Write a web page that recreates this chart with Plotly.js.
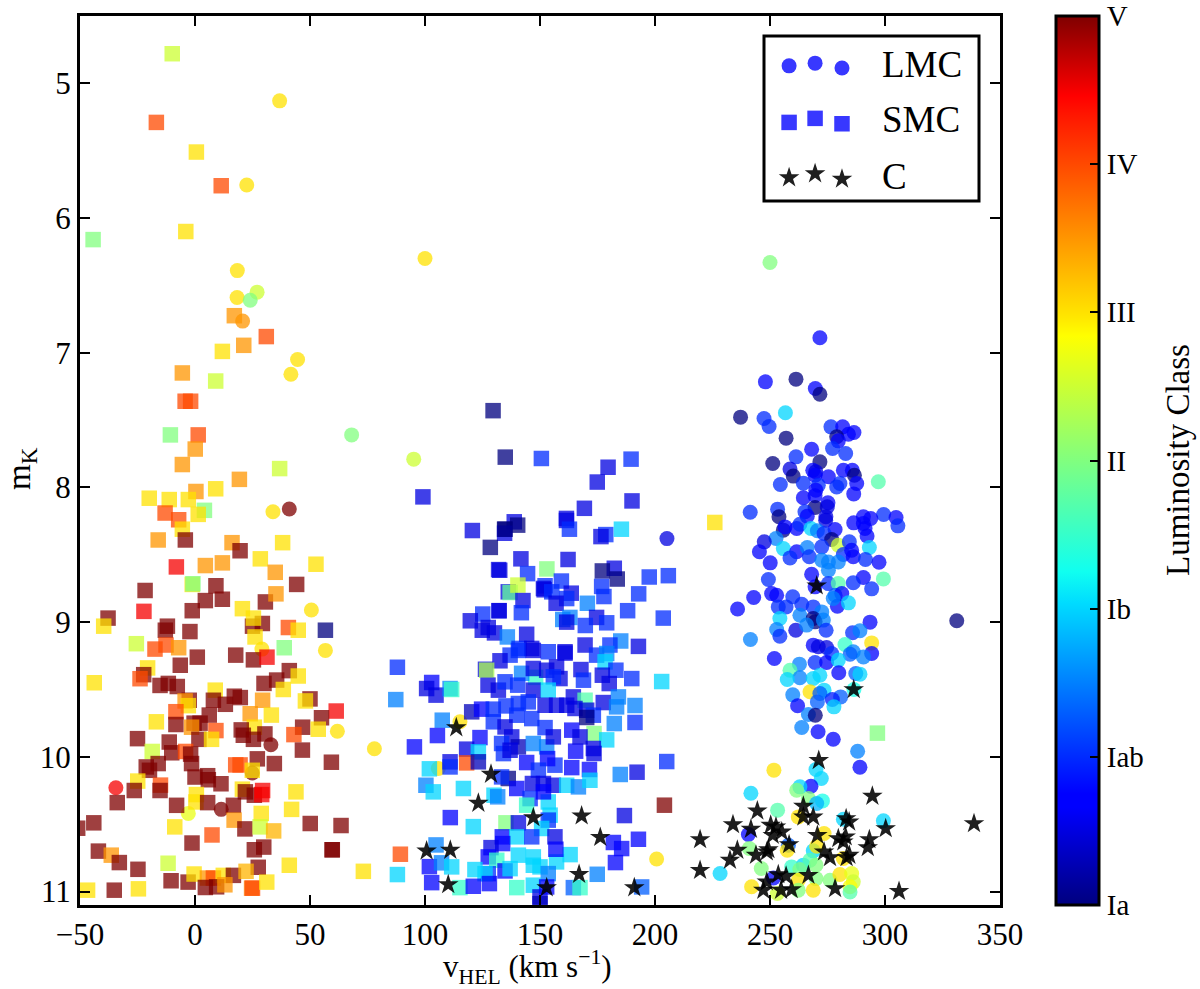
<!DOCTYPE html>
<html><head><meta charset="utf-8">
<script src="https://cdn.plot.ly/plotly-3.0.1.min.js"></script>
<style>html,body{margin:0;padding:0;background:#fff}</style></head>
<body><div id="chart" style="width:1200px;height:989px"></div>
<script>
// Each row: [heliocentric velocity (km/s), K magnitude, luminosity class on the colour bar, Ia=0 ... V=6]
const lmcForeground = [[36.8,5.13,4],[22.5,5.755,4],[18.4,6.39,4],[18.3,6.59,4],[27,6.55,3.5],[24,6.61,3],[20.7,6.765,4.5],[44.6,7.05,4],[41.7,7.16,4],[68.1,7.61,3],[33.9,8.18,4],[41,8.16,6],[95.1,7.79,3.5],[100,6.3,4],[250,6.33,3],[50.6,8.91,4],[56.7,9.21,4],[29.1,9.2,4],[61.9,9.81,4],[33,9.91,6],[78,9.94,4],[24.9,10.12,6],[-34.4,10.23,5.5],[11.4,10.39,6],[-2.9,10.42,3.7],[200.7,10.758,4],[115.2,9.74,4],[105.8,10.087,4],[205.2,8.38,0.5]];
const lmcUpper = [[271.7,6.889,.7],[248,7.216,.7],[261.3,7.196,0],[269.7,7.265,.7],[271.7,7.308,0],[237.2,7.478,0],[247.4,7.488,1],[249.6,7.548,1],[256.7,7.446,2],[276.5,7.55,1],[281.6,7.55,.7],[284.1,7.605,.7],[286.5,7.592,.7],[279,7.624,0],[279.7,7.654,.7],[257,7.634,0],[268.1,7.716,.7],[277.2,7.711,1],[282.9,7.748,1],[261.3,7.773,1],[251.2,7.822,0],[271.7,7.81,0],[258.7,7.864,.5],[260.1,7.916,0],[268.6,7.872,.7],[269.9,7.884,.5],[269.6,7.909,.7],[281.9,7.872,.7],[285.8,7.872,.7],[286.7,7.909,0],[275.4,7.921,.7],[297.1,7.958,2.7],[254.5,7.978,1],[264.5,7.968,1],[287.7,7.971,.7],[280.4,7.971,1],[279,7.996,1],[271,7.983,1],[269.9,8.02,.7],[286.4,8.048,.7],[264.5,8.077,.7],[269.6,8.062,.7],[275.2,8.114,.7],[269.6,8.149,0],[274.9,8.144,.5],[241.4,8.184,1],[253.3,8.161,1],[253.9,8.218,0],[265.2,8.181,1],[266.2,8.213,.7],[274.3,8.218,.5],[274.2,8.243,.5],[299.4,8.201,1],[304.8,8.223,.7],[305.6,8.285,1],[286.4,8.263,.7],[290.6,8.218,.7],[293.8,8.231,.7],[290.6,8.268,.7],[291.3,8.305,.7],[292.2,8.36,.7],[255.8,8.317,0],[256.5,8.293,.7],[261.6,8.305,.7],[263,8.273,1],[267.8,8.305,2],[270.6,8.322,1.5],[278.3,8.312,.7],[273.5,8.342,1],[276.8,8.387,0],[252.6,8.379,1.5],[247.5,8.404,.5],[245.4,8.478,.7],[255.8,8.454,2],[261.6,8.478,.7],[258.7,8.523,1],[266.2,8.446,1.5],[267.1,8.515,1],[272.5,8.441,1],[279.7,8.429,3.5],[284.5,8.404,1],[281.9,8.498,1],[285.5,8.466,.7],[286.2,8.515,.7],[293.2,8.446,2],[291.5,8.535,1],[297.4,8.555,.7],[250.1,8.56,.7],[275.4,8.553,1.5],[275.4,8.614,1.5],[279.7,8.553,1.5],[272.5,8.54,1.5],[249.3,8.684,1],[268.1,8.644,.7],[299.3,8.679,2.7],[290.6,8.669,.7],[286.2,8.708,1],[294.2,8.753,1],[275.4,8.714,1],[279.7,8.714,2.7],[269.6,8.738,.7],[250.7,8.788,.7],[252.9,8.8,.7],[242.9,8.817,.7],[235.9,8.902,.7],[259.9,8.812,1],[263.8,8.867,1],[253.6,8.887,1],[257,8.887,1],[278.3,8.8,1.3],[281.2,8.788,.7],[279.3,8.882,.7],[284.1,8.857,2],[277.5,8.825,1.5],[268.8,8.887,1],[272.5,8.924,1.5],[263,8.949,1.5],[254.3,8.973,2],[268.8,8.973,0],[293.5,9,.7],[331.2,8.99,0]];
const lmcLower = [[252.9,9.055,1.5],[254.3,9.104,1],[261.2,9.06,.5],[269.6,8.998,0],[265.9,9.022,1.5],[273.2,8.985,1.5],[274.4,9.06,1],[285.9,9.079,1],[289.1,9.064,1.5],[241.5,9.129,1.5],[294.2,9.154,4],[282.6,9.166,2.5],[294.2,9.233,.7],[290.6,9.258,1.5],[286.2,9.22,1.5],[284.8,9.238,1.3],[268.8,9.171,.7],[271,9.183,.5],[274.6,9.188,.5],[276.8,9.233,1],[251.9,9.27,.7],[269.6,9.3,1],[274.6,9.3,.7],[279.7,9.282,2],[262.8,9.312,1.5],[279.9,9.376,.7],[258.7,9.357,2.7],[263,9.413,1.5],[257.5,9.426,2],[268.8,9.418,2],[271.7,9.394,2],[287.3,9.381,1.3],[289.1,9.386,2],[286.5,9.5,2.3],[267.4,9.517,4],[273.5,9.505,2],[271.7,9.53,1.3],[259.9,9.54,1.5],[270.6,9.592,1.3],[280.7,9.555,1.3],[277.1,9.574,.9],[277.8,9.629,2],[262,9.621,.7],[266.7,9.686,1.5],[269.7,9.691,0],[263.8,9.782,1.5],[270.9,9.814,.7],[277.5,9.869,.7],[288.1,9.958,1.5],[289.1,10.077,.7],[251.7,10.099,4],[270,10.094,2],[272.3,10.161,2],[267.8,10.218,.7],[263,10.223,2],[261.6,10.248,3],[266.7,10.31,3],[241.7,10.27,2],[272.8,10.327,2.3],[270.3,10.347,1.8],[253.3,10.396,2.7],[262.3,10.446,4],[281.9,10.463,2],[299.3,10.475,2],[273.5,10.569,4],[240.6,10.577,.7],[258,10.656,1.3],[257.5,10.693,4],[241,10.68,3],[268.8,10.698,2],[270.3,10.664,4],[228.3,10.866,2],[246.2,10.829,3],[259.4,10.817,2.5],[264.5,10.804,2],[263,10.837,3],[267.4,10.767,2.7],[270,10.804,3],[270,10.904,3],[242,10.965,4],[251.5,10.899,.7],[253.2,11.015,3.5],[262.3,10.916,4],[262.3,10.99,3],[268.8,10.99,4],[276.1,10.916,3],[280.4,10.874,4],[285.5,10.866,3.7],[286.2,10.928,3.5],[284.8,10.965,3.8],[284.8,11.003,2.7],[281.9,10.755,4]];
const smcForegroundUpper = [[-9.9,4.78,3.5],[-16.8,5.29,5],[0.6,5.51,4],[11.4,5.76,5],[-4,6.10,4],[-44.3,6.16,3],[17.1,6.725,4.5],[31,6.88,5],[21.2,6.945,4.5],[11.9,6.99,4],[-5.5,7.15,4.5],[9,7.21,3.5],[-4.3,7.36,5],[-1.9,7.36,5],[-10.7,7.61,3],[1.4,7.61,5],[0.1,7.715,4.5],[-5.5,7.83,4.5],[36.8,7.86,3.5],[19.3,7.94,4.5],[0.4,8.03,4.5],[9,8.01,4],[-19.9,8.08,4],[-11.2,8.09,4],[-2.9,8.09,4],[4.1,8.17,3],[1.4,8.2,4],[-13,8.19,5],[-7.1,8.24,5],[-5.5,8.31,4],[-4.2,8.39,6],[-16,8.39,4.5],[16.1,8.41,4.5],[19.6,8.47,6],[38.1,8.41,4],[28.4,8.53,4],[52.6,8.57,4],[-8.1,8.59,5.5],[4.5,8.58,4.5],[11.9,8.56,4.5],[34.9,8.63,4.5],[-21.7,8.765,6],[44.2,8.72,6],[-1.2,8.72,4],[-0.9,8.715,3],[9.1,8.73,6],[4.5,8.84,6],[11.9,8.83,6],[30.6,8.85,6],[35.2,8.79,4.5]];
const smcForegroundMiddle = [[-1.2,8.915,6],[20.6,8.90,4],[-22.2,8.92,5.5],[-37.8,8.97,6],[-39.7,9.03,4],[-12,9.03,6],[-12.9,9.06,6],[25,9.03,6],[29.3,9.01,6],[25.4,8.97,4],[-2.2,9.07,6],[40.6,9.04,5],[44.9,9.06,4],[56.7,9.06,0],[-25.5,9.16,3.5],[38.8,9.19,3],[-17.4,9.2,5],[-12.6,9.17,5],[-7.1,9.19,4.5],[26.1,9.11,4],[1,9.26,6],[17.7,9.245,6],[25.4,9.28,6],[31.3,9.26,5.5],[-6.4,9.32,6],[-20.6,9.34,4],[41,9.36,6],[44.9,9.4,4],[-22.3,9.39,6],[-23.9,9.42,5],[35.5,9.43,6],[30,9.455,6],[38.4,9.5,4],[-43.8,9.45,4],[-15.2,9.47,6],[-11.6,9.455,6],[-7.7,9.478,6],[8.8,9.505,4],[8,9.58,6],[17.1,9.55,6],[19.7,9.56,6],[-2.5,9.58,6],[-4.3,9.585,4.5],[-2.9,9.62,4],[29.4,9.58,4.5],[50,9.57,6],[48,9.585,4],[13.2,9.61,6],[-8.3,9.665,5],[6.2,9.69,6],[61.4,9.66,5.5],[24,9.68,4.5],[33.2,9.69,4],[55,9.71,6],[-16.8,9.74,4],[-8.3,9.76,6],[-0.4,9.75,6],[2.2,9.75,6],[-1.5,9.78,4.5],[9.1,9.805,5],[25.8,9.78,4],[20.1,9.8,6],[21,9.84,6],[25.4,9.87,6],[30.4,9.83,6],[46.8,9.78,6],[43,9.835,5],[53.6,9.795,4],[-25,9.865,6],[1.7,9.87,6],[7.2,9.87,4],[-11.2,9.89,6],[46.7,9.95,6],[-18.6,9.96,3.5],[-10.1,9.97,6],[-4.1,9.96,5],[-1.9,9.98,6]];
const smcForegroundLower = [[-1.5,10.05,6],[-16,10.05,6],[-21.2,10.075,6],[-19.8,10.1,6],[27.1,10.015,6],[17.7,10.06,5],[19.6,10.06,5],[34.5,10.05,6],[59.3,10.04,6],[24.9,10.1,4],[0,10.15,6],[5.5,10.14,6],[5.8,10.17,6],[11.3,10.2,6],[-24.9,10.18,4],[-15,10.21,5],[-15.2,10.25,6],[-26.4,10.25,6],[43.9,10.26,4],[20.6,10.24,4],[21.9,10.26,6],[25.8,10.285,6],[29,10.28,5.5],[29.4,10.25,5.5],[0.6,10.28,4],[0.4,10.335,4],[5.5,10.34,6],[-33.8,10.34,6],[-8,10.36,6],[16.7,10.36,6],[42,10.39,4],[28.8,10.42,4],[17,10.47,4.5],[-44,10.49,6],[-51,10.53,6],[50.1,10.495,6],[63.5,10.51,6],[-8.8,10.52,4],[21.7,10.535,6],[28.3,10.52,3.5],[34.2,10.55,4.3],[7.4,10.58,5],[-1.3,10.64,6],[-42,10.7,6],[-36.4,10.73,4.5],[-32.9,10.785,6],[25.8,10.69,6],[29.9,10.67,6],[59.6,10.69,6],[59.7,10.69,6],[-24.8,10.835,6],[-11.7,10.79,3.5],[41,10.805,4],[73.2,10.85,4],[27.5,10.82,6],[-10.4,10.92,6],[-3,10.93,6],[-24.6,10.98,4],[-35.1,10.99,6],[-46.7,10.99,4],[-0.4,10.87,4],[5.4,10.9,4.5],[8,10.9,5],[12.3,10.88,4],[16.7,10.88,6],[22.2,10.85,4.3],[4.5,10.97,6],[9.4,10.965,6],[13,10.95,4.5],[24.6,10.975,4.7],[25,10.975,5],[31.2,10.93,4],[226,8.26,4],[296.7,9.824,3]];
const smcBarUpper = [[129.6,7.43,0],[134.9,7.775,0],[150.6,7.785,1],[189.6,7.79,1],[179.6,7.85,.5],[174.9,7.96,.5],[99.1,8.07,.5],[190,8.1,.5],[169.3,8.155,.5],[161.5,8.23,.5],[161.5,8.245,.5],[162.8,8.31,1],[138.8,8.255,.5],[140.3,8.28,0],[134.6,8.31,0],[134.6,8.34,.5],[134.8,8.31,0],[120.6,8.32,.5],[178.6,8.35,1],[176.5,8.365,.5],[185.4,8.31,2],[128.4,8.445,0],[141.7,8.53,.5],[162.2,8.535,.5],[132,8.61,.5],[132.5,8.615,.5],[153,8.605,3],[144.6,8.64,1],[182.3,8.6,.5],[177.1,8.62,0],[183.6,8.68,0],[197.5,8.665,1],[205.8,8.655,1],[159.3,8.695,1],[152.2,8.73,1],[151.5,8.75,.5],[151.8,8.76,.5],[136.2,8.775,.5],[137,8.78,2.8],[140.4,8.725,3.5],[176.8,8.735,1],[163.6,8.785,.5],[161.6,8.825,1],[177.8,8.81,1],[192.9,8.79,1],[155.1,8.775,1],[142.6,8.84,.5],[157,8.86,.5],[170.6,8.86,1.5],[188.1,8.915,1],[203.6,8.97,1],[132.2,8.915,.5],[132.2,8.915,.5],[125.1,8.94,1],[141.9,8.93,1],[119.7,8.99,.5],[127.5,9.04,.5],[124.9,9.06,.5],[130.2,9.08,.5],[135.8,9.11,1.5],[144.2,9.09,.5],[159.9,8.98,1.5],[163,8.965,1.5],[161.6,9,.5],[174.6,8.965,.5],[179,9.005,1],[169.7,9.025,1],[185.1,9.14,1.5],[180.4,9.17,1],[192.8,9.18,.5],[169.6,9.17,.5],[140.9,9.195,1],[146.4,9.195,.5],[153.6,9.22,1],[160.9,9.22,.5]];
const smcBarLower = [[88,9.335,1],[140.6,9.21,1],[147.1,9.21,.5],[137,9.245,1],[132.6,9.287,.5],[160.9,9.23,.5],[174.6,9.245,1],[179,9.233,1.5],[178.3,9.295,2],[183,9.357,1],[126.3,9.35,.5],[126.8,9.357,3.3],[148.1,9.41,2.5],[142,9.38,1.5],[147.1,9.344,.5],[152.9,9.357,.5],[157.2,9.332,.5],[158.7,9.419,.5],[155.8,9.406,1],[167.8,9.352,.5],[168.9,9.431,1],[177.1,9.394,.5],[180.1,9.456,.5],[189.9,9.419,1],[202.9,9.441,2],[102.9,9.448,.7],[100.7,9.493,.5],[104.8,9.542,.5],[110.9,9.493,1.5],[111.6,9.5,2.5],[87.3,9.575,1.5],[127.4,9.468,.5],[131.9,9.505,.5],[140.3,9.468,1],[147.1,9.505,.5],[153.6,9.505,2],[134.8,9.443,1],[164.5,9.555,.5],[169.6,9.58,2.7],[177.5,9.597,.5],[184.1,9.555,1.5],[183.3,9.629,1.5],[191.3,9.619,1.5],[152.2,9.617,.5],[157.2,9.617,.5],[161.6,9.617,.5],[165.2,9.641,.5],[170.3,9.654,.5],[173.2,9.691,1],[120.3,9.666,.3],[124.6,9.646,.7],[129.7,9.646,1],[135.2,9.622,1],[140.6,9.604,1],[144.9,9.592,1],[139.9,9.691,1],[146.4,9.716,1],[170.3,9.708,0],[152.2,9.783,1],[163.8,9.802,.7],[107.5,9.728,1.5],[129.7,9.74,1],[134.8,9.778,.5],[137.7,9.852,.5],[133.3,9.901,1],[140.6,9.926,.3],[134.1,9.976,1],[137,9.951,.5],[182.3,9.753,1.5],[191.3,9.745,1],[105.4,9.842,.7],[123.9,9.857,.7],[95.4,9.926,.7],[173.5,9.827,3],[179,9.874,2],[173.2,9.938,.5],[173.5,9.975,.5],[147.1,9.901,1.5],[152.9,9.926,1.5],[155.8,9.852,.5],[165.5,9.958,.7],[167.4,9.852,.5],[118.1,9.943,.5],[123.2,9.963,2],[110.9,10.037,.5],[110.9,10.075,1],[118.1,10.045,5],[123.2,10.037,.3],[101.9,10.089,2],[144.2,10.042,.7],[156.5,10.062,1],[163.8,10.08,.7],[171.5,10.094,.7],[153.3,10.013,.7],[149.3,10.099,1],[184.9,10.131,1.5],[192.2,10.114,.5],[205.1,10.035,1]];
const smcBarBottom = [[136.2,10.161,0],[133.3,10.149,1],[139.9,10.235,.7],[146.7,10.198,.5],[151.5,10.198,.5],[155.8,10.211,.5],[161.6,10.211,2],[166.7,10.223,1.5],[171.7,10.174,2],[100.4,10.211,1.5],[103.6,10.26,2],[116.7,10.235,2],[130,10.285,2],[131.6,10.297,1.5],[145.7,10.31,1],[153.6,10.335,2],[144.2,10.359,2.5],[151.5,10.26,.7],[111,10.451,.7],[121,10.518,2],[135.2,10.49,3],[140.6,10.49,.5],[154.4,10.433,2],[153.6,10.47,1],[186.7,10.436,.5],[204.1,10.359,6],[133.6,10.594,.7],[139.9,10.594,2],[150.7,10.532,2],[146.4,10.594,1],[156.5,10.594,.5],[133.8,10.644,.7],[104.8,10.654,1.5],[89.3,10.723,5],[101.9,10.815,.7],[107.2,10.787,1.5],[111.6,10.817,2],[88,10.874,2],[181.9,10.636,.7],[185.5,10.681,.7],[192.8,10.612,.7],[182.8,10.785,.7],[174.9,10.872,1.5],[163.1,10.726,2],[157.2,10.78,2],[156.9,10.686,.7],[128.7,10.674,.5],[127.5,10.743,.7],[131.2,10.768,2.5],[134.8,10.847,.7],[127.5,10.867,1],[121.7,10.837,2],[126.1,10.867,2],[140.6,10.73,2],[147.1,10.743,2],[147.1,10.805,2],[150,10.817,2],[153.6,10.867,1.5],[137,10.83,2],[102.9,10.934,.7],[115.2,10.971,2.5],[121,10.961,.7],[128,10.941,.7],[139.9,10.971,2.5],[147.1,10.953,2],[150,11.04,.5],[150,11.09,.3],[152.9,10.966,.7],[164.5,10.971,1.3],[167.4,10.971,2.5],[194.2,10.966,1.3]];
// Carbon stars: [velocity, K magnitude]
const carbonStars = [[113.6,9.783],[128.7,10.129],[123.2,10.344],[147.1,10.451],[168.1,10.438],[176.2,10.597],[100.7,10.698],[111,10.693],[167,10.872],[110.1,10.948],[152.9,10.971],[191,10.971],[270.3,8.73],[286.4,9.5],[271.2,10.027],[294.5,10.292],[338.7,10.495],[264.5,10.366],[244.5,10.401],[233.9,10.503],[241.7,10.537],[250.3,10.507],[252.6,10.52],[255.1,10.557],[251.2,10.582],[264.5,10.446],[268.8,10.446],[283.1,10.458],[284.4,10.483],[300.3,10.532],[270.6,10.582],[279.7,10.607],[282.9,10.594],[281.9,10.631],[293.2,10.614],[292.5,10.673],[258.3,10.651],[235.8,10.693],[232.6,10.767],[243.9,10.73],[249.3,10.688],[248.6,10.705],[273.5,10.705],[276.1,10.748],[284.5,10.73],[283.3,10.748],[253.6,10.874],[257,10.886],[266.7,10.879],[248.6,10.928],[247.1,10.99],[254.8,10.99],[259.4,10.985],[278.3,10.978],[306.1,10.998],[219.6,10.614],[219.6,10.842]];
const classTicks = [0,1,2,3,4,5,6];
const classLabels = ['Ia','Iab','Ib','II','III','IV','V'];
const velocityTicks = [-50,0,50,100,150,200,250,300,350];
const magnitudeTicks = [5,6,7,8,9,10,11];
const legendNames = ['LMC','SMC','C'];
const legendV = [258.3,269.6,281.3];
const legendCircleK = [4.87,4.85,4.886];
const legendSquareK = [5.29,5.26,5.30];
const legendStarK = [5.70,5.67,5.71];

const SERIF = '"Liberation Serif","DejaVu Serif",serif';
const jet = [[0,'#00007f'],[0.11,'#0000ff'],[0.125,'#0000ff'],[0.34,'#00dcff'],[0.375,'#10fff0'],[0.64,'#ffff00'],[0.66,'#ffe800'],[0.89,'#ff1500'],[0.91,'#ff0000'],[1,'#7f0000']];
const lmc = [...lmcForeground, ...lmcUpper, ...lmcLower];
const smc = [...smcForegroundUpper, ...smcForegroundMiddle, ...smcForegroundLower, ...smcBarUpper, ...smcBarLower, ...smcBarBottom];
const col = (a,i)=>a.map(r=>r[i]);
const traces = [
 {type:'scatter',mode:'markers',x:col(lmc,0),y:col(lmc,1),hoverinfo:'skip',
  marker:{symbol:'circle',size:15,opacity:.75,line:{width:0},color:col(lmc,2),colorscale:jet,cmin:0,cmax:6,showscale:false}},
 {type:'scatter',mode:'markers',x:col(smc,0),y:col(smc,1),hoverinfo:'skip',
  marker:{symbol:'square',size:15.5,opacity:.75,line:{width:0},color:col(smc,2),colorscale:jet,cmin:0,cmax:6,showscale:true,
   colorbar:{thicknessmode:'pixels',thickness:43,lenmode:'fraction',len:1,x:1.0605,xanchor:'left',y:0,yanchor:'bottom',xpad:0,ypad:0,
    outlinewidth:3,outlinecolor:'#000',tickmode:'array',tickvals:classTicks,ticktext:classLabels,ticks:'inside',ticklen:10,tickwidth:2,tickcolor:'#000',
    tickfont:{family:SERIF,size:29,color:'#000'}}}},
 {type:'scatter',mode:'markers',x:col(carbonStars,0),y:col(carbonStars,1),hoverinfo:'skip',
  marker:{symbol:'star',size:15.5,color:'#000',opacity:.88,line:{width:0}}},
 {type:'scatter',mode:'markers',x:legendV,y:legendCircleK,hoverinfo:'skip',marker:{symbol:'circle',size:15,color:'#2222ff',opacity:.9,line:{width:0}}},
 {type:'scatter',mode:'markers',x:legendV,y:legendSquareK,hoverinfo:'skip',marker:{symbol:'square',size:15.5,color:'#2222ff',opacity:.9,line:{width:0}}},
 {type:'scatter',mode:'markers',x:legendV,y:legendStarK,hoverinfo:'skip',marker:{symbol:'star',size:15.5,color:'#000',opacity:.88,line:{width:0}}}
];
const axis = {showgrid:false,zeroline:false,showline:true,linewidth:3,linecolor:'#000',mirror:'ticks',ticks:'inside',ticklen:10,tickwidth:2,tickcolor:'#000',tickmode:'array',automargin:false,tickfont:{family:SERIF,size:31,color:'#000'}};
const legendText = (text,k)=>({xref:'x',yref:'y',x:298,y:k,xanchor:'left',yanchor:'middle',showarrow:false,text,font:{family:SERIF,size:37,color:'#000'}});
const titleNote = (text,px,py,size,angle)=>({xref:'paper',yref:'paper',x:(px-80)/920,y:(905-py)/889,xanchor:'center',yanchor:'middle',textangle:angle,showarrow:false,text,font:{family:SERIF,size,color:'#000'}});
const layout = {
 width:1200,height:989,showlegend:false,paper_bgcolor:'#fff',plot_bgcolor:'#fff',
 margin:{l:80,r:200,t:16,b:84,pad:0},
 xaxis:{...axis,range:[-50,350],tickvals:velocityTicks},
 yaxis:{...axis,range:[11.1,4.5],tickvals:magnitudeTicks},
 shapes:[{type:'rect',xref:'paper',yref:'paper',x0:(764-80)/920,x1:(979-80)/920,y0:(905-201)/889,y1:(905-36)/889,line:{color:'#000',width:3},fillcolor:'#fff',layer:'below'}],
 annotations:[legendText(legendNames[0],4.86),legendText(legendNames[1],5.27),legendText(legendNames[2],5.69),
  titleNote('v<sub>HEL</sub> (km s<sup>−1</sup>)',527,967,31,0),
  titleNote('m<sub>K</sub>',21,468,33,-90),
  titleNote('Luminosity Class',1178,460,33,-90)]
};
Plotly.newPlot('chart',traces,layout,{staticPlot:true,displayModeBar:false});
</script></body></html>
